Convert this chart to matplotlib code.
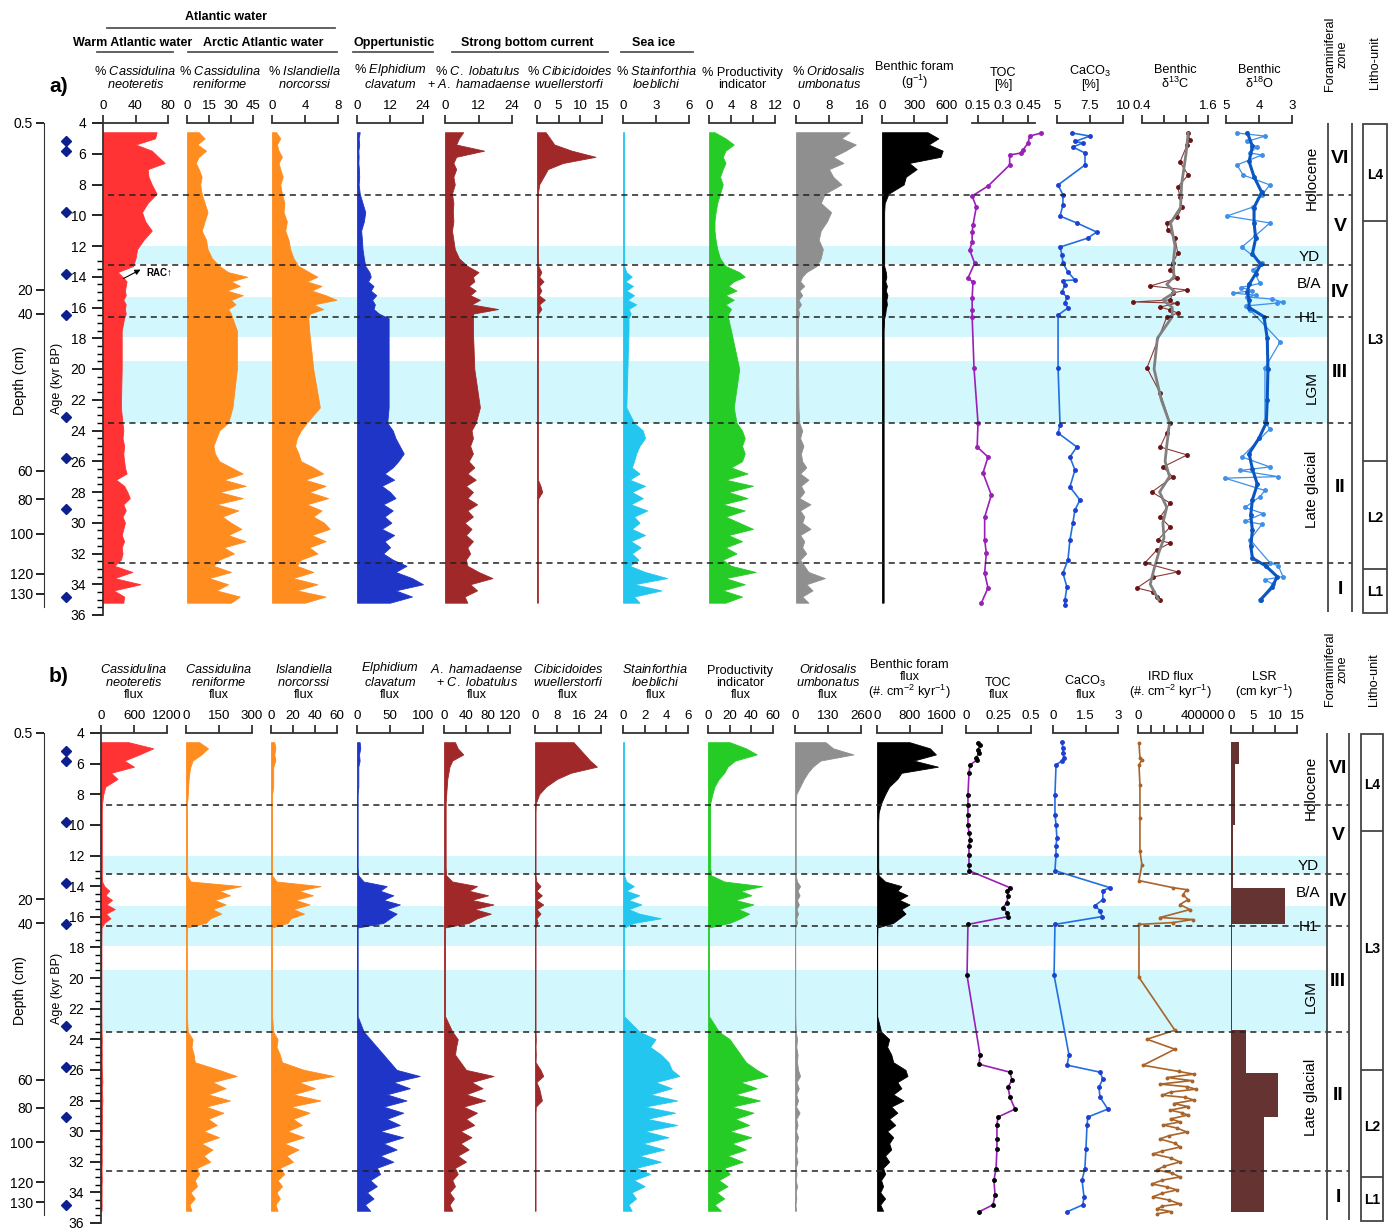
import numpy as np
import matplotlib
matplotlib.use("Agg")
import matplotlib.pyplot as plt
from matplotlib.lines import Line2D
from matplotlib.patches import Rectangle

plt.rcParams['font.family'] = ['Liberation Sans', 'DejaVu Sans']
plt.rcParams['mathtext.fontset'] = 'custom'
plt.rcParams['mathtext.rm'] = 'Liberation Sans'
plt.rcParams['mathtext.it'] = 'Liberation Sans:italic'
plt.rcParams['mathtext.bf'] = 'Liberation Sans:bold'

#######################################
###### DATA
#######################################

# sample depths shared by the filled (area) columns
depth = [4.6, 5.0, 5.4, 5.8, 6.2, 6.6, 7.0, 7.5, 8.0, 8.6,
         9.2, 9.8, 10.4, 11.0, 11.6, 12.2, 12.8, 13.3, 13.7, 14.0,
         14.3, 14.6, 14.9, 15.2, 15.5, 15.8, 16.1, 16.4, 16.7, 17.5,
         20.0, 22.5, 23.5, 24.0, 24.5, 25.0, 25.5, 26.0, 26.4, 26.8,
         27.2, 27.6, 28.0, 28.4, 28.8, 29.2, 29.6, 30.0, 30.4, 30.8,
         31.2, 31.6, 32.0, 32.4, 32.8, 33.2, 33.6, 34.0, 34.4, 34.8,
         35.2]

# panel a: relative abundances (%)
neo_a = [66, 64, 40, 60, 68, 76, 55, 56, 60, 66,
         55, 48, 52, 60, 50, 42, 40, 37, 18, 24,
         29, 28, 27, 28, 25, 28, 27, 28, 26, 23,
         23, 22, 24, 25, 24, 26, 25, 26, 27, 29,
         16, 26, 30, 33, 25, 28, 24, 27, 25, 23,
         26, 23, 24, 22, 14, 36, 14, 46, 13, 26,
         25]
ren_a = [8, 12, 7, 13, 8, 6, 8, 10, 9, 10,
         12, 14, 12, 10, 13, 14, 17, 22, 28, 41,
         30, 36, 27, 38, 30, 33, 28, 30, 31, 34,
         34, 31, 28, 22, 20, 18, 19, 22, 30, 38,
         25, 40, 22, 38, 20, 35, 24, 30, 37, 28,
         40, 25, 32, 22, 18, 30, 15, 28, 20, 36,
         30]
nor_a = [0.5, 1.0, 0.6, 0.8, 1.2, 0.8, 1.0, 1.3, 1.0, 1.2,
         1.5, 1.4, 1.8, 1.6, 2.0, 2.2, 2.6, 3.2, 4.5, 5.5,
         4.2, 6.0, 4.8, 6.5, 7.8, 5.0, 6.2, 4.6, 4.4, 4.5,
         5.0, 5.8, 4.2, 3.5, 3.0, 2.8, 3.2, 3.5, 5.0, 6.2,
         4.0, 6.5, 4.5, 6.8, 4.2, 6.0, 5.0, 6.3, 7.0, 4.8,
         6.5, 4.5, 5.5, 3.5, 3.0, 5.0, 2.5, 5.5, 3.0, 6.5,
         4.0]
ela_a = [1.0, 0.6, 0.8, 0.5, 0.6, 0.5, 0.7, 0.8, 0.6, 1.0,
         2.0, 3.0, 2.5, 1.5, 1.8, 2.0, 2.5, 3.0, 4.5, 5.0,
         4.0, 6.0, 5.0, 7.0, 5.5, 6.5, 6.0, 8.0, 11.5, 11.5,
         11.5, 11.5, 11.0, 13.0, 14.0, 15.5, 17.0, 15.0, 13.0, 10.0,
         13.5, 9.0, 12.0, 14.0, 9.5, 13.0, 10.0, 12.5, 9.0, 13.5,
         10.0, 12.0, 9.5, 13.0, 18.0, 14.0, 20.0, 24.0, 14.0, 20.0,
         12.0]
lob_a = [6.5, 5.0, 4.0, 14.0, 4.0, 3.0, 4.0, 3.0, 3.5, 2.5,
         3.0, 2.8, 3.0, 2.5, 3.0, 3.5, 5.0, 8.0, 12.0, 10.0,
         10.5, 8.5, 11.0, 9.0, 12.5, 9.5, 19.0, 10.0, 10.0, 10.0,
         10.5, 12.5, 11.0, 9.5, 10.0, 9.0, 10.0, 8.5, 10.5, 8.0,
         11.0, 7.5, 10.0, 8.0, 11.5, 8.0, 10.0, 7.0, 9.5, 7.5,
         10.0, 8.0, 9.0, 7.5, 8.0, 12.0, 17.0, 9.0, 11.5, 7.0,
         8.0]
wue_a = [2.0, 3.0, 4.0, 8.0, 13.5, 6.0, 2.5, 1.5, 0.5, 0.2,
         0.2, 0.2, 0.2, 0.2, 0.2, 0.2, 0.2, 0.3, 1.0, 0.5,
         1.5, 0.5, 1.0, 0.4, 1.8, 0.5, 1.0, 0.3, 0.2, 0.2,
         0.2, 0.2, 0.2, 0.2, 0.2, 0.2, 0.2, 0.2, 0.2, 0.2,
         0.2, 0.8, 1.2, 0.3, 0.2, 0.2, 0.2, 0.2, 0.2, 0.2,
         0.2, 0.2, 0.2, 0.2, 0.2, 0.2, 0.2, 0.2, 0.2, 0.2,
         0.2]
loe_a = [0.1, 0.1, 0.1, 0.1, 0.1, 0.1, 0.1, 0.1, 0.1, 0.1,
         0.1, 0.1, 0.1, 0.1, 0.1, 0.1, 0.1, 0.1, 0.3, 0.8,
         0.2, 0.9, 0.3, 1.0, 0.4, 1.2, 0.5, 0.7, 0.5, 0.5,
         0.4, 0.3, 1.0, 1.8, 2.0, 1.5, 1.2, 1.0, 0.8, 1.5,
         0.6, 2.0, 0.8, 1.8, 0.7, 2.2, 1.0, 1.5, 0.8, 2.0,
         0.7, 1.6, 0.8, 1.4, 0.6, 2.0, 4.0, 1.0, 3.5, 1.0,
         1.5]
pro_a = [1.0, 3.0, 4.5, 3.0, 2.5, 3.0, 2.5, 2.0, 2.5, 2.0,
         1.5, 1.2, 1.0, 1.0, 1.2, 1.5, 2.0, 3.0, 5.5, 6.5,
         4.5, 3.5, 5.0, 3.0, 4.5, 3.0, 4.0, 3.5, 3.5, 4.0,
         5.5, 4.5, 5.0, 6.0, 6.5, 6.0, 6.5, 6.0, 4.0, 7.0,
         3.0, 8.0, 3.5, 7.0, 2.5, 6.5, 3.0, 5.5, 8.0, 3.5,
         6.0, 3.0, 5.0, 2.5, 4.0, 8.5, 3.0, 6.5, 2.5, 6.0,
         3.0]
umb_a = [13.0, 11.0, 14.5, 12.0, 9.0, 11.5, 8.0, 9.0, 11.0, 7.0,
         6.0, 8.5, 7.5, 6.0, 5.5, 6.5, 6.0, 5.0, 2.5, 1.5,
         1.0, 2.0, 0.8, 1.5, 0.6, 1.2, 0.5, 0.8, 0.5, 0.5,
         0.5, 0.6, 0.8, 1.5, 1.0, 1.8, 1.2, 1.5, 2.5, 1.0,
         3.0, 1.2, 2.0, 0.8, 3.5, 1.0, 2.0, 1.5, 3.5, 1.0,
         2.0, 1.5, 2.5, 1.0, 2.0, 3.0, 7.0, 2.5, 4.0, 1.5,
         3.0]
ben_a = [420, 520, 430, 560, 540, 250, 320, 220, 200, 60,
         25, 20, 20, 20, 20, 20, 20, 20, 35, 40,
         30, 45, 35, 50, 40, 45, 35, 30, 20, 15,
         15, 15, 15, 15, 15, 15, 15, 15, 15, 15,
         15, 15, 15, 15, 15, 15, 15, 15, 15, 15,
         15, 15, 15, 15, 15, 15, 15, 15, 15, 15,
         15]

toc_depth = [4.65, 4.85, 5.30, 5.76, 5.95, 6.08, 6.73, 8.10, 8.75, 9.46,
             10.63, 11.09, 11.74, 12.26, 13.11, 14.08, 14.34, 15.38, 16.16, 16.62,
             19.93, 23.51, 25.07, 25.72, 26.76, 28.20, 29.63, 31.12, 31.97, 33.27,
             34.24, 35.22]
toc = [0.53, 0.46, 0.45, 0.42, 0.41, 0.34, 0.34, 0.21, 0.115, 0.14,
       0.12, 0.115, 0.115, 0.10, 0.13, 0.09, 0.12, 0.115, 0.115, 0.115,
       0.126, 0.15, 0.145, 0.21, 0.18, 0.23, 0.19, 0.19, 0.20, 0.19,
       0.21, 0.17]

caco_depth = [4.65, 4.85, 5.2, 5.3, 5.56, 5.95, 6.73, 8.03, 8.68, 9.33,
              10.05, 10.5, 11.09, 11.48, 12.07, 12.59, 13.11, 13.69, 14.21, 14.25,
              14.54, 14.99, 15.32, 15.71, 16.03, 16.49, 19.93, 23.64, 24.16, 25.07,
              25.72, 26.57, 27.67, 28.52, 29.17, 30.02, 31.12, 32.42, 33.27, 34.18,
              35.02, 35.35]
caco = [6.14, 7.5, 6.36, 6.97, 6.2, 7.12, 7.12, 5.08, 5.45, 5.45,
        5.23, 6.5, 8.0, 7.35, 5.23, 5.38, 5.45, 5.83, 6.36, 5.45,
        5.6, 5.38, 5.75, 5.6, 5.83, 5.08, 5.08, 5.23, 5.08, 6.5,
        5.98, 6.36, 5.98, 6.74, 6.36, 6.2, 5.98, 5.83, 5.45, 5.75,
        5.6, 5.6]

d13_depth = [4.65, 5.1, 5.43, 6.54, 7.38, 8.16, 8.81, 9.46, 10.11, 10.5,
             10.96, 11.48, 12.46, 13.11, 13.56, 14.08, 14.6, 14.86, 15.06, 15.51,
             15.64, 15.71, 15.97, 16.16, 16.36, 16.62, 19.93, 21.56, 23.51, 24.16,
             25.07, 25.59, 26.37, 27.02, 28.0, 28.72, 29.63, 30.28, 31.12, 31.32,
             31.77, 32.62, 33.2, 33.53, 34.24, 34.5, 34.83, 35.02]
d13 = [1.24, 1.27, 1.22, 1.09, 1.24, 1.05, 1.09, 1.13, 1.04, 0.85,
       0.87, 1.0, 1.05, 0.96, 0.91, 1.04, 0.55, 1.22, 0.96, 0.91,
       0.24, 1.04, 0.73, 0.91, 1.05, 0.85, 0.49, 0.73, 0.91, 0.85,
       0.73, 1.22, 0.78, 0.96, 0.58, 0.91, 0.73, 0.91, 0.69, 0.91,
       0.67, 0.45, 1.05, 0.6, 0.31, 0.6, 0.67, 0.73]
d13s_depth = [4.65, 6.0, 8.0, 9.5, 10.5, 12.0, 13.0, 14.0, 14.5, 15.0,
              15.5, 16.0, 16.6, 18.0, 20.0, 22.0, 23.5, 25.0, 26.0, 27.0,
              28.0, 29.0, 30.0, 31.0, 32.0, 33.0, 34.0, 35.0]
d13s = [1.24, 1.2, 1.12, 1.1, 0.92, 1.0, 0.97, 0.98, 0.85, 1.0,
        0.78, 0.95, 0.95, 0.68, 0.62, 0.75, 0.9, 0.85, 0.82, 0.9,
        0.72, 0.85, 0.78, 0.8, 0.7, 0.62, 0.55, 0.7]

d18_depth = [4.65, 4.85, 5.2, 5.56, 5.95, 6.08, 6.73, 7.38, 8.03, 8.68,
             9.46, 10.05, 10.5, 11.35, 12.07, 13.11, 13.56, 14.43, 14.7, 14.9,
             15.06, 15.2, 15.32, 15.45, 15.66, 15.71, 15.9, 16.16, 18.23, 19.93,
             23.4, 23.9, 25.72, 26.37, 26.6, 27.0, 27.1, 27.9, 28.3, 29.0,
             29.4, 29.9, 30.1, 31.1, 32.6, 32.8, 33.5, 33.7, 34.0, 35.0]
d18 = [4.67, 3.82, 4.36, 4.06, 4.27, 3.91, 4.67, 4.48, 3.67, 3.91,
       4.18, 4.97, 3.67, 4.12, 4.52, 3.91, 4.18, 3.97, 4.55, 4.2,
       4.79, 4.1, 4.36, 3.6, 3.27, 3.45, 4.4, 4.27, 3.36, 3.82,
       3.82, 3.67, 4.52, 3.67, 4.58, 3.42, 5.03, 3.82, 3.97, 4.42,
       3.88, 4.42, 3.91, 4.27, 3.67, 3.42, 3.27, 3.82, 3.58, 3.97]
d18s_depth = [4.65, 5.5, 6.5, 7.5, 8.5, 9.5, 10.5, 11.5, 12.5, 13.2,
              13.8, 14.5, 15.0, 15.5, 16.0, 16.6, 18.0, 20.0, 22.0, 23.5,
              24.5, 25.5, 26.5, 27.5, 28.5, 29.5, 30.5, 31.5, 32.3, 32.8,
              33.5, 34.2, 35.0]
d18s = [4.35, 4.2, 4.3, 4.15, 3.92, 4.15, 4.15, 4.1, 4.2, 3.95,
        4.1, 4.3, 4.35, 4.3, 4.3, 3.85, 3.75, 3.73, 3.75, 3.78,
        4.0, 4.3, 4.2, 4.05, 4.2, 4.25, 4.2, 4.25, 4.2, 3.8,
        3.45, 3.6, 3.95]

# panel b: fluxes
neo_b = [500, 950, 700, 420, 600, 180, 300, 80, 40, 20,
         15, 15, 15, 15, 15, 15, 15, 15, 20, 60,
         150, 80, 200, 100, 250, 90, 170, 60, 10, 8,
         8, 8, 10, 15, 12, 15, 12, 15, 20, 25,
         15, 20, 25, 20, 15, 20, 15, 18, 15, 12,
         15, 12, 15, 10, 12, 15, 10, 12, 10, 12,
         10]
ren_b = [60, 100, 70, 30, 20, 15, 12, 10, 8, 5,
         5, 5, 5, 5, 5, 5, 5, 6, 20, 250,
         150, 200, 130, 180, 120, 160, 110, 90, 5, 4,
         4, 4, 8, 30, 25, 35, 40, 150, 230, 120,
         180, 100, 200, 90, 170, 100, 140, 80, 150, 70,
         120, 80, 110, 50, 60, 40, 50, 20, 40, 15,
         25]
nor_b = [3, 4, 3, 4, 2, 2, 2, 2, 1, 1,
         1, 1, 1, 1, 1, 1, 1, 1, 5, 45,
         25, 38, 22, 35, 20, 30, 18, 15, 1, 1,
         1, 1, 2, 6, 5, 8, 10, 30, 57, 25,
         40, 20, 45, 18, 35, 20, 28, 15, 30, 12,
         25, 14, 20, 8, 12, 6, 10, 5, 8, 4,
         6]
ela_b = [4, 5, 3, 4, 2, 2, 2, 2, 1, 1,
         1, 1, 1, 1, 1, 1, 1, 2, 10, 45,
         35, 55, 40, 65, 45, 60, 50, 40, 1, 1,
         1, 1, 10, 20, 30, 40, 50, 60, 95, 55,
         80, 45, 75, 40, 70, 45, 65, 35, 70, 40,
         60, 35, 55, 30, 35, 20, 30, 15, 25, 12,
         20]
lob_b = [20, 25, 35, 15, 10, 8, 6, 5, 4, 3,
         3, 3, 3, 3, 3, 3, 3, 4, 15, 60,
         45, 80, 50, 90, 55, 85, 60, 45, 2, 2,
         2, 2, 15, 25, 22, 20, 30, 40, 90, 50,
         70, 40, 75, 35, 60, 40, 55, 30, 50, 30,
         45, 25, 40, 20, 25, 15, 20, 10, 18, 10,
         15]
wue_b = [14, 16, 18, 20, 22.5, 13, 8, 4, 1.5, 0.3,
         0.2, 0.2, 0.2, 0.2, 0.2, 0.2, 0.2, 0.2, 0.5, 2.0,
         0.5, 2.5, 0.5, 3.0, 0.6, 2.0, 0.5, 1.0, 0.2, 0.2,
         0.2, 0.2, 0.2, 0.3, 0.2, 0.3, 0.2, 2.0, 3.0, 0.5,
         1.5, 2.0, 2.5, 0.3, 0.2, 0.2, 0.2, 0.2, 0.2, 0.2,
         0.2, 0.2, 0.2, 0.2, 0.2, 0.2, 0.2, 0.2, 0.2, 0.2,
         0.2]
loe_b = [0.1, 0.1, 0.1, 0.1, 0.1, 0.1, 0.1, 0.1, 0.1, 0.1,
         0.1, 0.1, 0.1, 0.1, 0.1, 0.1, 0.1, 0.1, 0.3, 1.0,
         0.3, 1.5, 0.5, 1.7, 0.5, 1.5, 3.5, 1.0, 0.1, 0.1,
         0.1, 0.1, 1.5, 3.0, 2.5, 3.5, 4.2, 4.5, 5.2, 3.0,
         4.5, 2.5, 5.0, 2.0, 4.8, 2.2, 5.0, 2.0, 4.2, 1.8,
         3.8, 1.5, 3.5, 1.2, 2.5, 1.0, 2.0, 0.8, 1.2, 0.5,
         0.8]
pro_b = [20, 35, 45, 25, 18, 15, 10, 6, 4, 2,
         2, 2, 2, 2, 2, 2, 2, 3, 15, 50,
         30, 40, 25, 42, 28, 38, 30, 20, 1, 1,
         1, 1, 10, 20, 25, 30, 35, 45, 55, 30,
         45, 25, 48, 22, 42, 25, 38, 20, 40, 22,
         35, 18, 32, 15, 20, 10, 18, 8, 15, 6,
         12]
umb_b = [120, 150, 230, 100, 70, 50, 35, 20, 5, 3,
         3, 3, 3, 3, 3, 3, 3, 3, 8, 20,
         10, 18, 8, 15, 6, 12, 5, 8, 1, 1,
         1, 1, 3, 8, 5, 10, 8, 12, 20, 6,
         15, 5, 12, 4, 18, 5, 10, 4, 12, 5,
         8, 4, 10, 3, 6, 3, 8, 3, 5, 2,
         4]
ben_b = [800, 1300, 1450, 900, 1500, 600, 500, 300, 200, 100,
         40, 30, 30, 30, 30, 30, 30, 40, 200, 600,
         500, 750, 550, 800, 600, 700, 550, 400, 10, 5,
         5, 5, 100, 300, 250, 350, 400, 700, 750, 500,
         600, 400, 650, 350, 500, 300, 450, 250, 400, 300,
         350, 200, 300, 150, 200, 100, 150, 80, 200, 80,
         150]

tocf_depth = [4.65, 4.78, 5.1, 5.3, 5.63, 5.76, 6.08, 6.6, 8.04, 8.69,
              9.34, 9.99, 10.51, 10.97, 11.36, 11.95, 12.6, 12.99, 14.1, 14.29,
              14.62, 15.08, 15.4, 15.73, 15.99, 16.5, 19.83, 25.04, 25.63, 26.15,
              26.67, 27.13, 27.78, 28.56, 29.08, 29.6, 30.51, 31.17, 32.47, 33.19,
              34.16, 34.81, 35.27]
tocf = [0.092, 0.108, 0.092, 0.1, 0.077, 0.085, 0.031, 0.023, 0.015, 0.015,
        0.015, 0.015, 0.023, 0.031, 0.023, 0.023, 0.023, 0.023, 0.338, 0.315,
        0.323, 0.315, 0.285, 0.315, 0.323, 0.015, 0.008, 0.108, 0.1, 0.338,
        0.354, 0.323, 0.338, 0.377, 0.246, 0.238, 0.238, 0.238, 0.231, 0.215,
        0.223, 0.208, 0.1]

cacof_depth = [4.59, 4.98, 5.3, 5.63, 5.82, 6.08, 8.04, 9.34, 9.99, 10.84,
               11.36, 11.95, 12.99, 14.1, 14.29, 14.88, 15.27, 15.6, 15.99, 16.5,
               19.83, 25.04, 25.69, 26.15, 26.6, 27.13, 27.78, 28.56, 29.08, 29.6,
               31.17, 32.47, 33.19, 34.29, 34.81, 35.27]
cacof = [0.41, 0.46, 0.46, 0.51, 0.41, 0.14, 0.09, 0.09, 0.14, 0.18,
         0.14, 0.14, 0.09, 2.63, 2.3, 2.3, 1.94, 2.17, 2.26, 0.09,
         0.05, 0.74, 0.65, 2.17, 2.3, 2.12, 2.17, 2.53, 1.61, 1.57,
         1.52, 1.47, 1.34, 1.43, 1.38, 0.65]

ird_depth = [4.65, 5.63, 5.76, 6.08, 7.38, 9.54, 11.69, 12.6, 13.64, 14.1,
             14.23, 14.55, 14.88, 15.2, 15.53, 16.05, 16.18, 16.38, 16.5, 19.96,
             23.41, 24.0, 24.65, 25.7, 26.1, 26.28, 26.5, 26.7, 26.93, 27.1,
             27.26, 27.45, 27.65, 27.8, 27.97, 28.2, 28.4, 28.63, 28.8, 28.95,
             29.2, 29.4, 29.6, 29.8, 30.06, 30.3, 30.51, 30.8, 31.04, 31.3,
             31.49, 31.75, 32.01, 32.3, 32.53, 32.75, 32.99, 33.2, 33.45, 33.65,
             33.84, 34.05, 34.29, 34.5, 34.75, 34.9, 35.08, 35.25, 35.4]
ird = [6000, 12000, 24000, 6000, 12000, 12000, 12000, 24000, 6000, 215000,
       300000, 277000, 308000, 258000, 320000, 135000, 338000, 215000, 6000, 6000,
       227000, 55000, 227000, 31000, 250000, 344000, 180000, 330000, 135000, 300000,
       357000, 200000, 148000, 290000, 344000, 220000, 310000, 197000, 270000, 308000,
       200000, 260000, 154000, 240000, 301000, 190000, 135000, 230000, 258000, 150000,
       92000, 200000, 258000, 160000, 117000, 210000, 258000, 150000, 86000, 180000,
       240000, 150000, 92000, 190000, 258000, 150000, 117000, 200000, 117000]

lsr_top = [4.6, 6.0, 10.0, 14.1, 16.5, 23.4, 26.2, 29.1]
lsr_bot = [6.0, 10.0, 14.1, 16.5, 23.4, 26.2, 29.1, 35.3]
lsr = [1.8, 0.9, 0.5, 12.3, 0.3, 3.4, 10.7, 7.5]

# age scale, radiocarbon dates, stratigraphy
age_labels = ['0.5', '20', '40', '60', '80', '100', '120', '130']
age_depth = [4.0, 14.86, 16.42, 26.63, 28.46, 30.73, 33.33, 34.63]
date_depth = [5.17, 5.82, 9.79, 13.82, 16.49, 23.12, 25.79, 29.11, 34.83]
boundaries = [8.68, 13.24, 16.6, 23.5, 32.6]
bands = [(12.0, 13.2), (15.3, 17.9), (19.5, 23.5)]
zones = ['VI', 'V', 'IV', 'III', 'II', 'I']
zone_depth = [6.3, 10.7, 15.0, 20.2, 27.7, 34.35]
litho = ['L4', 'L3', 'L2', 'L1']
litho_depth = [7.4, 18.1, 29.7, 34.5]
litho_bounds = [10.4, 26.0, 33.0]

#######################################
###### LAYOUT
#######################################

W, H = 1396, 1230
fig = plt.figure(figsize=(W / 100, H / 100), dpi=100)

RED, ORANGE, BLUE, BROWN = '#ff3333', '#ff8c1f', '#1f35c8', '#a02828'
CYAN, GREEN, GREY = '#22c6ef', '#26cc26', '#8f8f8f'
BAND = '#d2f7fc'
TFS = 9.2  # title font size


def ftext(x, y, s, **kw):
    fig.text(x / W, 1 - y / H, s, **kw)


def fline(x0, x1, y, **kw):
    fig.add_artist(Line2D([x0 / W, x1 / W], [1 - y / H, 1 - y / H],
                          transform=fig.transFigure, **kw))


def col_axes(px, top, bot, xlim, ticks, labels=None):
    ax = fig.add_axes([px[0] / W, 1 - bot / H, (px[1] - px[0]) / W, (bot - top) / H])
    ax.set_zorder(2)
    ax.patch.set_visible(False)
    ax.set_xlim(*xlim)
    ax.set_ylim(36, 4)
    for s in ('left', 'right', 'bottom'):
        ax.spines[s].set_visible(False)
    ax.spines['top'].set_linewidth(1.3)
    ax.spines['top'].set_color('#333333')
    ax.xaxis.tick_top()
    ax.set_xticks(ticks)
    if labels is None:
        labels = [f'{t:g}' for t in ticks]
    ax.set_xticklabels(labels)
    ax.tick_params(axis='x', length=6, width=1.3, pad=2, labelsize=9.6, color='#333333')
    ax.set_yticks([])
    return ax


def panel_frame(top, bot, zone_x, litho_x, depth_x):
    # bands behind everything
    bg = fig.add_axes([0, 1 - bot / H, 1, (bot - top) / H])
    bg.set_zorder(0)
    bg.set_xlim(0, W)
    bg.set_ylim(36, 4)
    bg.axis('off')
    for d0, d1 in bands:
        bg.fill_between([depth_x, zone_x[0]], d0, d1, color=BAND, lw=0)

    ov = fig.add_axes([0, 1 - bot / H, 1, (bot - top) / H])
    ov.set_zorder(3)
    ov.set_xlim(0, W)
    ov.set_ylim(36, 4)
    ov.axis('off')
    ov.patch.set_visible(False)
    ov.hlines(boundaries, depth_x + 5, zone_x[1], colors='#222222', lw=1.1,
              linestyles=(0, (4, 3)))
    ov.vlines(zone_x, 4.0, 35.8, colors='#444444', lw=1.3)
    ov.add_patch(Rectangle((litho_x[0], 4.05), litho_x[1] - litho_x[0], 31.85,
                           fill=False, ec='#444444', lw=1.3))
    ov.hlines(litho_bounds, litho_x[0], litho_x[1], colors='#444444', lw=1.3)
    for z, d in zip(zones, zone_depth):
        ov.text(np.mean(zone_x), d, z, ha='center', va='center', fontsize=14,
                fontweight='bold')
    for l, d in zip(litho, litho_depth):
        ov.text(np.mean(litho_x), d, l, ha='center', va='center', fontsize=10,
                fontweight='bold')
    tx = zone_x[0] - 16
    ov.text(tx, 7.6, 'Holocene', rotation=90, ha='center', va='center', fontsize=11)
    ov.text(tx - 3, 12.7, 'YD', ha='center', va='center', fontsize=11)
    ov.text(tx - 3, 14.45, 'B/A', ha='center', va='center', fontsize=11)
    ov.text(tx - 3, 16.7, 'H1', ha='center', va='center', fontsize=11)
    ov.text(tx, 21.2, 'LGM', rotation=90, ha='center', va='center', fontsize=11)
    ov.text(tx, 27.8, 'Late glacial', rotation=90, ha='center', va='center', fontsize=11)
    ov.plot(np.full(len(date_depth), 66), date_depth, 'D', color='#0d1f8c', ms=5,
            clip_on=False)

    # outer age scale
    ag = fig.add_axes([44 / W, 1 - bot / H, 1 / W, (bot - top) / H])
    ag.set_ylim(36, 4)
    ag.patch.set_visible(False)
    for s in ('right', 'top', 'bottom'):
        ag.spines[s].set_visible(False)
    ag.spines['left'].set_bounds(4, 35.5)
    ag.spines['left'].set_color('#333333')
    ag.set_xticks([])
    ag.set_yticks(age_depth)
    ag.set_yticklabels(age_labels)
    ag.tick_params(axis='y', length=6, width=1.2, labelsize=10, pad=2)
    ftext(20, top + 258, 'Depth (cm)', rotation=90, ha='center', va='center', fontsize=10)
    ftext(57, top + 255, 'Age (kyr BP)', rotation=90, ha='center', va='center', fontsize=9)
    return ov


def depth_axis(ax):
    ax.spines['left'].set_visible(True)
    ax.spines['left'].set_bounds(4, 36)
    ax.spines['left'].set_linewidth(1.3)
    ax.spines['left'].set_color('#333333')
    ax.set_yticks(np.arange(4, 37, 2))
    ax.set_yticks(np.arange(13, 36, 0.5), minor=True)
    ax.tick_params(axis='y', which='major', length=8, width=1.2, labelsize=10, pad=4)
    ax.tick_params(axis='y', which='minor', length=4, width=1.0)


def fill_col(ax, vals, color):
    ax.fill_betweenx(depth, 0, vals, facecolor=color, edgecolor=color, lw=0.6)


# ---------------- panel a ----------------
TA, BA = 123, 615
a_px = [(103, 168), (187, 253), (272, 338), (357, 423), (445, 512), (537, 602),
        (623, 689), (709, 775), (796, 862), (882, 947), (972, 1035), (1057, 1123),
        (1142, 1208), (1226, 1292)]
fill_a = [(neo_a, RED, (0, 80), [0, 40, 80]),
          (ren_a, ORANGE, (0, 45), [0, 15, 30, 45]),
          (nor_a, ORANGE, (0, 8), [0, 4, 8]),
          (ela_a, BLUE, (0, 24), [0, 12, 24]),
          (lob_a, BROWN, (0, 24), [0, 12, 24]),
          (wue_a, BROWN, (0, 15), [0, 5, 10, 15]),
          (loe_a, CYAN, (0, 6), [0, 3, 6]),
          (pro_a, GREEN, (0, 12), [0, 4, 8, 12]),
          (umb_a, GREY, (0, 16), [0, 8, 16]),
          (ben_a, 'black', (0, 600), [0, 300, 600])]
titles_a = [r'% $\mathit{Cassidulina}$' '\n' r'$\mathit{neoteretis}$',
            r'% $\mathit{Cassidulina}$' '\n' r'$\mathit{reniforme}$',
            r'% $\mathit{Islandiella}$' '\n' r'$\mathit{norcorssi}$',
            r'% $\mathit{Elphidium}$' '\n' r'$\mathit{clavatum}$',
            r'% $\mathit{C.}$ $\mathit{lobatulus}$' '\n' r'+ $\mathit{A.}$ $\mathit{hamadaense}$',
            r'% $\mathit{Cibicidoides}$' '\n' r'$\mathit{wuellerstorfi}$',
            r'% $\mathit{Stainforthia}$' '\n' r'$\mathit{loeblichi}$',
            '% Productivity\nindicator',
            r'% $\mathit{Oridosalis}$' '\n' r'$\mathit{umbonatus}$',
            'Benthic foram\n(g$^{-1}$)',
            'TOC\n[%]',
            'CaCO$_3$\n[%]',
            'Benthic\nδ$^{13}$C',
            'Benthic\nδ$^{18}$O']

ov_a = panel_frame(TA, BA, (1328, 1352), (1363, 1387), 103)
for i, (vals, color, xl, tk) in enumerate(fill_a):
    ax = col_axes(a_px[i], TA, BA, xl, tk)
    fill_col(ax, vals, color)
    if i == 0:
        depth_axis(ax)

ax = col_axes(a_px[10], TA, BA, (0.114, 0.492), [0.15, 0.3, 0.45])
ax.plot(toc, toc_depth, '-o', color='#9a1fb8', lw=1.2, ms=2.5, clip_on=False)
ax = col_axes(a_px[11], TA, BA, (5, 10), [5, 7.5, 10])
ax.plot(caco, caco_depth, '-o', color='#2170e0', mfc='#1f3fd0', mec='#1f3fd0',
        lw=1.2, ms=2.5, clip_on=False)
ax = col_axes(a_px[12], TA, BA, (0.4, 1.6), [0.4, 0.8, 1.2, 1.6], ['0.4', '', '', '1.6'])
ax.plot(d13, d13_depth, '-o', color='#8b3a3a', mfc='#6a1515', mec='#6a1515',
        lw=0.8, ms=2.5, clip_on=False)
ax.plot(d13s, d13s_depth, '-', color='#808080', lw=2.0, clip_on=False)
ax = col_axes(a_px[13], TA, BA, (5, 3), [5, 4, 3])
ax.plot(d18, d18_depth, '-o', color='#3d8fe8', lw=0.9, ms=2.5, clip_on=False)
ax.plot(d18s, d18s_depth, '-o', color='#0b57c2', lw=2.2, ms=2.5, clip_on=False)

for i, t in enumerate(titles_a):
    ftext(sum(a_px[i]) / 2, 91, t, ha='center', va='bottom', fontsize=TFS, linespacing=1.0)

ov_a.annotate('', xy=(143, 13.45), xytext=(121, 14.2),
              arrowprops=dict(arrowstyle='-|>', lw=0.8, color='black', mutation_scale=8))
ov_a.text(146, 13.75, 'RAC↑', fontsize=7, fontweight='bold', va='center')

# group headers
ftext(226, 17, 'Atlantic water', ha='center', va='center', fontsize=9, fontweight='bold')
fline(107, 335, 28, color='#555555', lw=1.3)
groups = [('Warm Atlantic water', 133, 97, 173), ('Arctic Atlantic water', 263, 188, 337),
          ('Oppertunistic', 394, 353, 433), ('Strong bottom current', 527, 452, 608),
          ('Sea ice', 654, 621, 693)]
for name, cx, x0, x1 in groups:
    ftext(cx, 43, name, ha='center', va='center', fontsize=9, fontweight='bold')
    fline(x0, x1, 52, color='#555555', lw=1.3)

ftext(59, 87, 'a)', ha='center', va='center', fontsize=15, fontweight='bold')
ftext(1336, 91, 'Foraminiferal\nzone', rotation=90, ha='center', va='bottom',
      fontsize=TFS, linespacing=1.0, multialignment='center')
ftext(1375, 89, 'Litho-unit', rotation=90, ha='center', va='bottom', fontsize=TFS)

# ---------------- panel b ----------------
TB, BB = 733, 1223
b_px = [(101, 167), (186, 252), (271, 337), (357, 423), (444, 510), (535, 601),
        (623, 688), (708, 773), (795, 861), (877, 942), (966, 1031), (1053, 1118),
        (1138, 1203), (1231, 1297)]
fill_b = [(neo_b, RED, (0, 1200), [0, 600, 1200]),
          (ren_b, ORANGE, (0, 300), [0, 150, 300]),
          (nor_b, ORANGE, (0, 60), [0, 20, 40, 60]),
          (ela_b, BLUE, (0, 100), [0, 50, 100]),
          (lob_b, BROWN, (0, 120), [0, 40, 80, 120]),
          (wue_b, BROWN, (0, 24), [0, 8, 16, 24]),
          (loe_b, CYAN, (0, 6), [0, 2, 4, 6]),
          (pro_b, GREEN, (0, 60), [0, 20, 40, 60]),
          (umb_b, GREY, (0, 260), [0, 130, 260]),
          (ben_b, 'black', (0, 1600), [0, 800, 1600])]
titles_b = [r'$\mathit{Cassidulina}$' '\n' r'$\mathit{neoteretis}$' '\nflux',
            r'$\mathit{Cassidulina}$' '\n' r'$\mathit{reniforme}$' '\nflux',
            r'$\mathit{Islandiella}$' '\n' r'$\mathit{norcorssi}$' '\nflux',
            r'$\mathit{Elphidium}$' '\n' r'$\mathit{clavatum}$' '\nflux',
            r'$\mathit{A.}$ $\mathit{hamadaense}$' '\n' r'+ $\mathit{C.}$ $\mathit{lobatulus}$' '\nflux',
            r'$\mathit{Cibicidoides}$' '\n' r'$\mathit{wuellerstorfi}$' '\nflux',
            r'$\mathit{Stainforthia}$' '\n' r'$\mathit{loeblichi}$' '\nflux',
            'Productivity\nindicator\nflux',
            r'$\mathit{Oridosalis}$' '\n' r'$\mathit{umbonatus}$' '\nflux',
            'Benthic foram\nflux\n(#. cm$^{-2}$ kyr$^{-1}$)',
            'TOC\nflux',
            'CaCO$_3$\nflux',
            'IRD flux\n(#. cm$^{-2}$ kyr$^{-1}$)',
            'LSR\n(cm kyr$^{-1}$)']

ov_b = panel_frame(TB, BB, (1327, 1349), (1361, 1383), 101)
for i, (vals, color, xl, tk) in enumerate(fill_b):
    ax = col_axes(b_px[i], TB, BB, xl, tk)
    fill_col(ax, vals, color)
    if i == 0:
        depth_axis(ax)

ax = col_axes(b_px[10], TB, BB, (0, 0.5), [0, 0.25, 0.5])
ax.plot(tocf, tocf_depth, '-o', color='#9a1fb8', mfc='black', mec='black',
        lw=1.2, ms=2.5, clip_on=False)
ax = col_axes(b_px[11], TB, BB, (0, 3), [0, 1.5, 3])
ax.plot(cacof, cacof_depth, '-o', color='#2170e0', mfc='#1f3fd0', mec='#1f3fd0',
        lw=1.2, ms=2.5, clip_on=False)
ax = col_axes(b_px[12], TB, BB, (0, 400000), [0, 80000, 160000, 240000, 320000, 400000],
              ['0', '', '', '', '', '400000'])
ax.plot(ird, ird_depth, '-o', color='#a8642a', lw=1.2, ms=1.8, clip_on=False)
ax = col_axes(b_px[13], TB, BB, (0, 15), [0, 5, 10, 15])
ax.barh(lsr_top, lsr, height=np.subtract(lsr_bot, lsr_top), align='edge',
        color='#663333', lw=0)

for i, t in enumerate(titles_b):
    ftext(sum(b_px[i]) / 2, 701, t, ha='center', va='bottom', fontsize=TFS, linespacing=1.0)

ftext(59, 677, 'b)', ha='center', va='center', fontsize=15, fontweight='bold')
ftext(1336, 706, 'Foraminiferal\nzone', rotation=90, ha='center', va='bottom',
      fontsize=TFS, linespacing=1.0, multialignment='center')
ftext(1374, 706, 'Litho-unit', rotation=90, ha='center', va='bottom', fontsize=TFS)

fig.savefig('out.png', dpi=100)
